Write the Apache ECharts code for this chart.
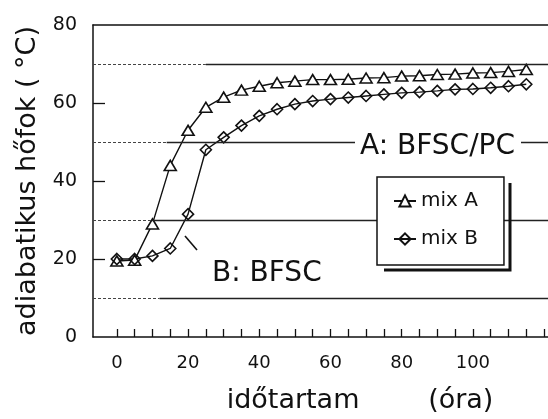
<!DOCTYPE html>
<html>
<head>
<meta charset="utf-8">
<script src="https://cdn.jsdelivr.net/npm/echarts@6/dist/echarts.min.js"></script>
<style>
html,body{margin:0;padding:0;background:#fff;}
#c{width:548px;height:419px;}
</style>
</head>
<body>
<div id="c"></div>
<script>
// ---- data ----
const hours = [0,5,10,15,20,25,30,35,40,45,50,55,60,65,70,75,80,85,90,95,100,105,110,115];
const mixA  = [19.5,19.7,29,44,53,58.9,61.5,63.3,64.3,65.2,65.6,66,66,66.1,66.4,66.5,66.9,67,67.3,67.4,67.7,67.8,68.1,68.6];
const mixB  = [20,20,20.8,22.7,31.5,48,51.2,54.2,56.7,58.4,59.7,60.5,61,61.4,61.8,62.2,62.6,62.8,63.1,63.5,63.6,63.9,64.3,64.8];
const xTickLabels = [0,20,40,60,80,100];
const xTicks = [0,5,10,15,20,25,30,35,40,45,50,55,60,65,70,75,80,85,90,95,100,105,110,115,120];
const yTicks = [20,40,60];
const refLines = [10,30,50,70];
const refDottedEnd = [12,10,14,25];
const seriesNames = ['mix A','mix B'];
const yTitle = 'adiabatikus hőfok ( °C)';
const xTitle = 'időtartam        (óra)';
const labelA = 'A: BFSC/PC';
const labelB = 'B: BFSC';

const X_MIN = -6.7, X_MAX = 121.1;
const TICK_LEN = 2.05; // in y-units (~8px)
const FONT = 'DejaVu Sans';
const INK = '#111';

const chart = echarts.init(document.getElementById('c'), null, {renderer:'canvas'});

const refMarks = [];
refLines.forEach((v,i)=>{
  refMarks.push([{coord:[X_MIN,v], lineStyle:{type:[3,2],color:'#444',width:1.2}},{coord:[refDottedEnd[i],v]}]);
  refMarks.push([{coord:[refDottedEnd[i],v], lineStyle:{type:'solid',color:'#222',width:1.3}},{coord:[X_MAX,v]}]);
});
const tickMarks = xTicks.map(x=>[{coord:[x,0]},{coord:[x,TICK_LEN]}]);

const axisCommon = {
  type:'value', min:X_MIN, max:X_MAX, splitLine:{show:false}
};

const option = {
  animation:false,
  backgroundColor:'#fff',
  grid:{left:93, top:25, right:0, height:315, show:false},
  xAxis:[
    Object.assign({}, axisCommon, {
      position:'bottom',
      axisLine:{show:true, onZero:false, lineStyle:{color:INK,width:1.5}},
      axisTick:{show:false},
      axisLabel:{customValues:xTickLabels, fontSize:18, color:INK, margin:17, fontFamily:FONT},
      name:xTitle, nameLocation:'middle', nameGap:50,
      nameTextStyle:{fontSize:27, color:INK, fontFamily:FONT, padding:[0,0,0,79]}
    }),
    Object.assign({}, axisCommon, {
      position:'top',
      axisLine:{show:true, onZero:false, lineStyle:{color:INK,width:1.5}},
      axisTick:{show:false}, axisLabel:{show:false}
    })
  ],
  yAxis:{
    type:'value', min:0, max:80, interval:20,
    axisLine:{show:true, onZero:false, lineStyle:{color:INK,width:1.5}},
    axisTick:{show:true, inside:true, length:12, customValues:yTicks, lineStyle:{color:INK,width:1.3}},
    axisLabel:{fontSize:19, color:INK, margin:16, fontFamily:FONT},
    splitLine:{show:false},
    name:yTitle, nameLocation:'middle', nameGap:50,
    nameTextStyle:{fontSize:27, color:INK, fontFamily:FONT}
  },
  legend:{
    data:seriesNames, orient:'vertical', left:377, top:177,
    padding:[14,26,16,16], itemWidth:22, itemHeight:14, itemGap:18,
    backgroundColor:'#fff', borderColor:INK, borderWidth:1.5, borderRadius:0,
    textStyle:{fontSize:20, color:INK, fontFamily:FONT}, z:10
  },
  series:[
    {
      name:seriesNames[0], type:'line',
      data:hours.map((h,i)=>[h,mixA[i]]),
      symbol:'triangle', symbolSize:[12,10], showAllSymbol:true,
      lineStyle:{color:INK,width:1.4},
      itemStyle:{color:'#fff', borderColor:INK, borderWidth:1.6},
      markLine:{silent:true, symbol:['none','none'], label:{show:false}, data:refMarks, animation:false}
    },
    {
      name:seriesNames[1], type:'line',
      data:hours.map((h,i)=>[h,mixB[i]]),
      symbol:'diamond', symbolSize:[11,11], showAllSymbol:true,
      lineStyle:{color:INK,width:1.4},
      itemStyle:{color:'rgba(255,255,255,0)', borderColor:INK, borderWidth:1.6},
      markLine:{silent:true, symbol:['none','none'], label:{show:false}, data:tickMarks, animation:false,
        lineStyle:{type:'solid', color:INK, width:1.3}}
    }
  ],
  graphic:[
    {type:'polyline', z:9, shape:{points:[[510,183],[510,270],[384,270]]}, style:{stroke:INK, lineWidth:3, fill:null}},
    {type:'text', z:8, x:355, y:147, style:{text:labelA, font:'28px "DejaVu Sans"', fill:INK, verticalAlign:'middle', backgroundColor:'#fff', padding:[2,6,2,5]}},
    {type:'text', z:8, x:212, y:274, style:{text:labelB, font:'28px "DejaVu Sans"', fill:INK, verticalAlign:'middle'}},
    {type:'line', z:8, shape:{x1:185,y1:236,x2:197,y2:250}, style:{stroke:INK, lineWidth:1.6}}
  ]
};
chart.setOption(option);
</script>
</body>
</html>
